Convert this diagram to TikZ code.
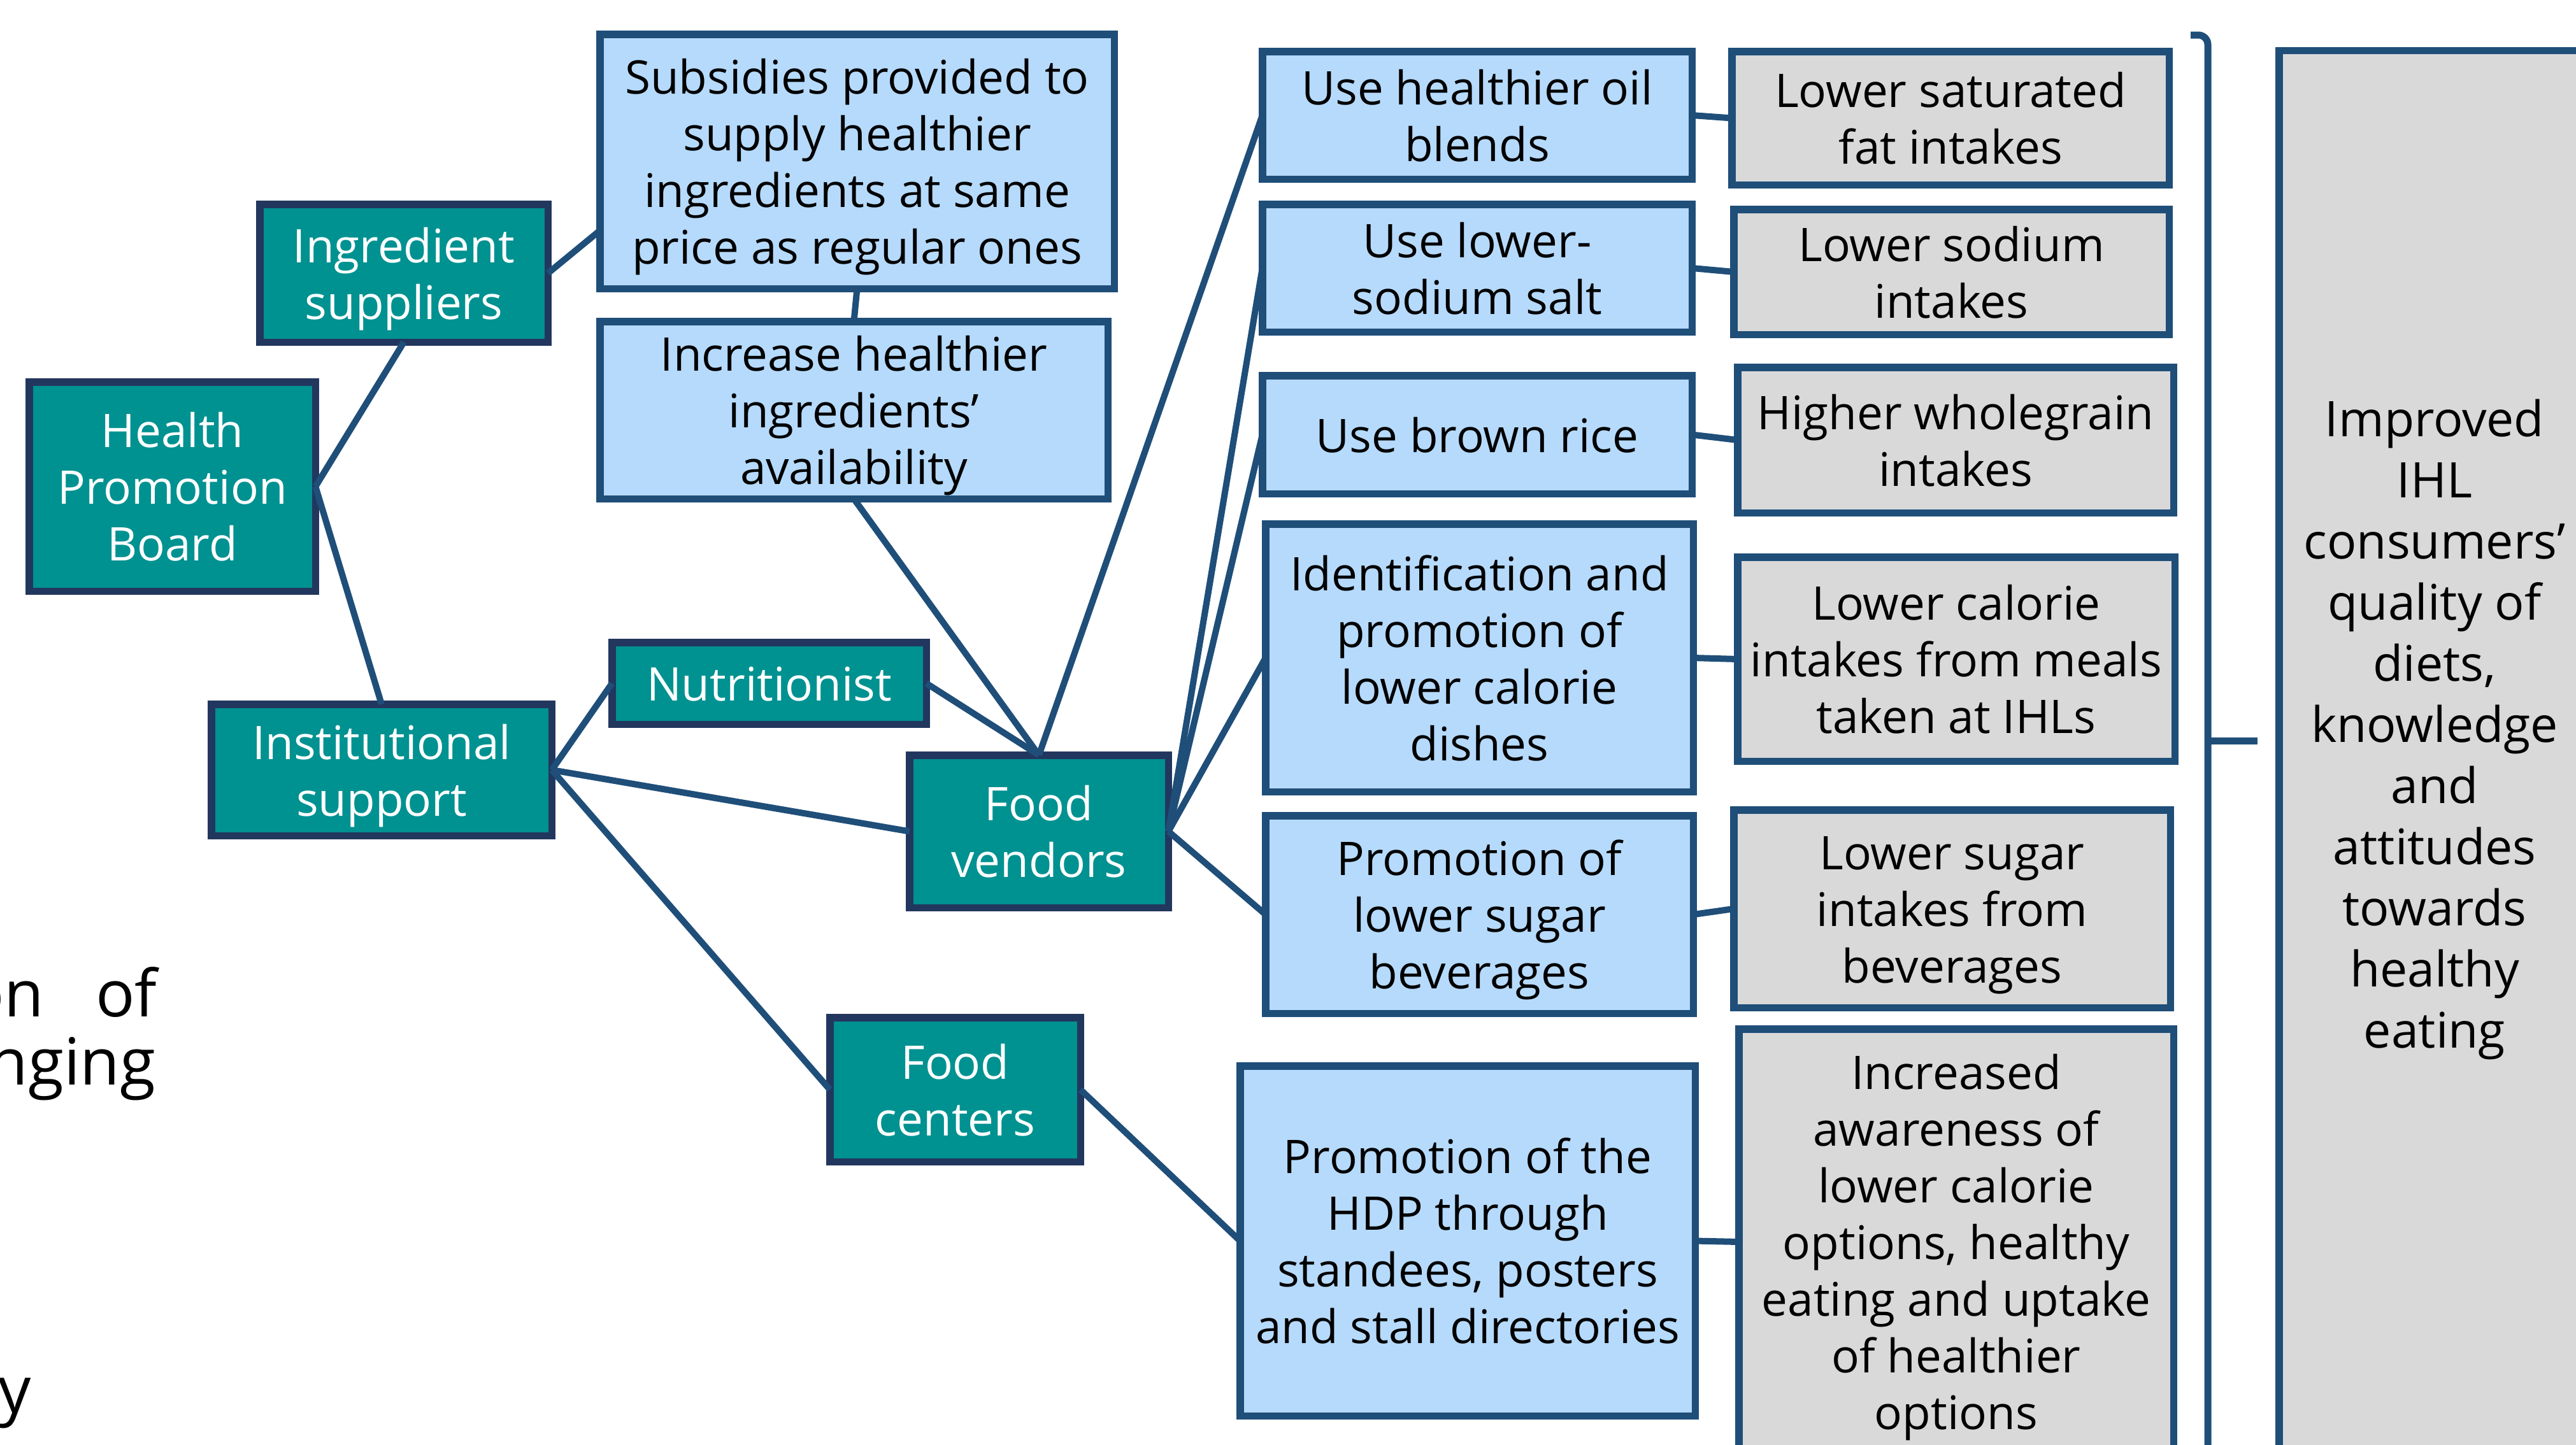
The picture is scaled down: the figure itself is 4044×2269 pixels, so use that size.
\documentclass[tikz,border=0pt]{standalone}
\usepackage{fontspec}
\setmainfont{Open Sans}
\usetikzlibrary{calc}
\definecolor{tealf}{RGB}{0,145,145}
\definecolor{tealb}{RGB}{34,55,94}
\definecolor{lbf}{RGB}{182,218,252}
\definecolor{lnk}{RGB}{31,78,121}
\definecolor{grf}{RGB}{217,217,217}
\tikzset{
 base/.style={rectangle, inner sep=0pt, outer sep=0pt, line width=0.115cm},
 tealbox/.style={base, fill=tealf, draw=tealb},
 bluebox/.style={base, fill=lbf, draw=lnk},
 graybox/.style={base, fill=grf, draw=lnk},
 txt/.style={inner sep=0pt, outer sep=0pt, font=\fontsize{20.7pt}{25.3pt}\selectfont, text=black},
 wtxt/.style={txt, text=white},
 link/.style={draw=lnk, line width=0.1cm},
 frag/.style={inner sep=0pt, font=\fontsize{29pt}{30pt}\selectfont, anchor=base east},
}
\newcommand{\mybox}[8]{%
 \node[#1, minimum width={0.01cm*(#6-#4-11.5)}, minimum height={0.01cm*(#7-#5-11.5)}] (#3) at ({(#4+#6)/2},{(#5+#7)/2}) {};
 \node[#2] (#3-t) at ($(#3.center)+(0,10)$) {\begin{tabular}{@{}c@{}}#8\end{tabular}};}
\begin{document}
\begin{tikzpicture}[x=0.01cm,y=-0.01cm]
\useasboundingbox (0,0) rectangle (4044,2269);
\clip (0,0) rectangle (4044,2269);
% left fragments
\node[frag] (f1) at (70,1596) {on};
\node[frag] (f2) at (247,1596) {of};
\node[frag] (f3) at (245,1703) {nging};
\node[frag] (f4) at (50,2218) {ty};
% teal boxes
\mybox{tealbox}{wtxt}{hpb}{40}{594}{501}{934}{Health\\Promotion\\Board}
\mybox{tealbox}{wtxt}{ing}{402}{315}{866}{543}{Ingredient\\suppliers}
\mybox{tealbox}{wtxt}{inst}{326}{1100}{872}{1318}{Institutional\\support}
\mybox{tealbox}{wtxt}{nutr}{955}{1003}{1460}{1143}{Nutritionist}
\mybox{tealbox}{wtxt}{fv}{1422}{1180}{1840}{1431}{Food\\vendors}
\mybox{tealbox}{wtxt}{fc}{1297}{1592}{1702}{1830}{Food\\centers}
% blue boxes
\mybox{bluebox}{txt}{subs}{936}{48}{1755}{459}{Subsidies provided to\\supply healthier\\ingredients at same\\price as regular ones}
\mybox{bluebox}{txt}{incr}{936}{499}{1745}{789}{Increase healthier\\ingredients’\\availability}
\mybox{bluebox}{txt}{oil}{1976}{75}{2662}{287}{Use healthier oil\\blends}
\mybox{bluebox}{txt}{salt}{1976}{315}{2662}{527}{Use lower-\\sodium salt}
\mybox{bluebox}{txt}{rice}{1976}{584}{2662}{781}{Use brown rice}
\mybox{bluebox}{txt}{ident}{1981}{817}{2664}{1249}{Identification and\\promotion of\\lower calorie\\dishes}
\mybox{bluebox}{txt}{sugar}{1981}{1275}{2664}{1597}{Promotion of\\lower sugar\\beverages}
\mybox{bluebox}{txt}{hdp}{1941}{1668}{2667}{2229}{Promotion of the\\HDP through\\standees, posters\\and stall directories}
% gray boxes
\mybox{graybox}{txt}{lsf}{2713}{75}{3411}{296}{Lower saturated\\fat intakes}
\mybox{graybox}{txt}{lsod}{2716}{323}{3411}{531}{Lower sodium\\intakes}
\mybox{graybox}{txt}{whole}{2722}{571}{3418}{811}{Higher wholegrain\\intakes}
\mybox{graybox}{txt}{lcal}{2722}{869}{3420}{1201}{Lower calorie\\intakes from meals\\taken at IHLs}
\mybox{graybox}{txt}{lsug}{2716}{1266}{3413}{1588}{Lower sugar\\intakes from\\beverages}
\mybox{graybox}{txt}{aware}{2724}{1610}{3418}{2290}{Increased\\awareness of\\lower calorie\\options, healthy\\eating and uptake\\of healthier\\options}
\node[graybox, minimum width=5.66cm, minimum height=23.2cm] (imp) at (3861,1240) {};
\node[inner sep=0pt, align=center, font=\fontsize{21.9pt}{27.3pt}\selectfont] (imptext) at (3822,1145) {Improved\\IHL\\consumers’\\quality of\\diets,\\knowledge\\and\\attitudes\\towards\\healthy\\eating};
% connectors
\draw[link] (hpb.east) -- (ing.south);
\draw[link] (hpb.east) -- (inst.north);
\draw[link] (ing.east) -- ($(subs.west)+(0,108.5)$);
\draw[link] (subs.south) -- (incr.north);
\draw[link] (incr.south) -- (fv.north);
\draw[link] (nutr.east) -- (fv.north);
\draw[link] (inst.east) -- (nutr.west);
\draw[link] (inst.east) -- (fv.west);
\draw[link] (inst.east) -- (fc.west);
\draw[link] (fv.north) -- (oil.west);
\draw[link] (fv.east) -- (salt.west);
\draw[link] (fv.east) -- (rice.west);
\draw[link] (fv.east) -- (ident.west);
\draw[link] (fv.east) -- (sugar.west);
\draw[link] (fc.east) -- (hdp.west);
\draw[link] (oil.east) -- (lsf.west);
\draw[link] (salt.east) -- (lsod.west);
\draw[link] (rice.east) -- (whole.west);
\draw[link] (ident.east) -- (lcal.west);
\draw[link] (sugar.east) -- (lsug.west);
\draw[link] (hdp.east) -- (aware.west);
% bracket
\coordinate (bt) at (3439,55);
\coordinate (bm) at (3466,1163);
\coordinate (btip) at (3544,1163);
\draw[link, line width=0.11cm, rounded corners=0.15cm] (bt) -- (3466,55) -- (3466,2320);
\draw[link, line width=0.11cm] (bm) -- (btip);
\end{tikzpicture}
\end{document}
